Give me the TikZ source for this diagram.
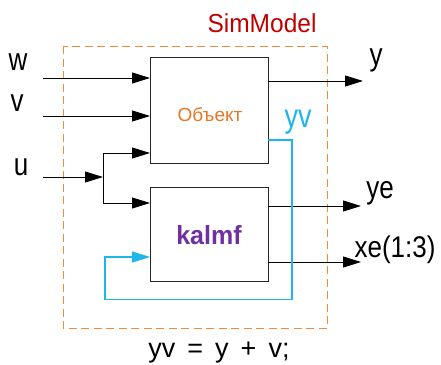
\documentclass[tikz,border=0pt]{standalone}
\usepackage{fontspec}
\setmainfont{Liberation Sans}
\usetikzlibrary{arrows.meta}
\definecolor{dorange}{HTML}{F08A3C}
\definecolor{simred}{HTML}{C00000}
\definecolor{objorange}{HTML}{E87722}
\definecolor{kpurple}{HTML}{7030A0}
\definecolor{sigblue}{HTML}{1EB4EC}
\newcommand{\tall}[1]{\scalebox{1}[1.22]{#1}}
\begin{document}
\begin{tikzpicture}[x=1pt,y=-1pt,
  blk/.style={draw=black!85, line width=1pt, minimum width=118pt, minimum height=#1, inner sep=0pt},
  arr/.style={line width=0.9pt, -{Triangle[length=18pt,width=11pt]}},
  lbl/.style={anchor=base, inner sep=0pt, font=\fontsize{26}{28}\selectfont},
  line join=miter]
\useasboundingbox (0,0) rectangle (441,364);
% dashed frame
\draw[dorange, line width=1pt, dash pattern=on 8pt off 4.5pt] (63,46) rectangle (327,328);
\node[lbl, text=simred, font=\fontsize{24.5}{26}\selectfont] (sim) at (262,32) {\scalebox{1}[1.06]{SimModel}};
% blocks
\node[blk=106pt] (obj) at (209,110) {};
\node[text=objorange, font=\fontsize{19}{21}\selectfont, inner sep=0pt] (objt) at (210,115) {Объект};
\node[blk=94pt] (kf) at (209,234) {};
\node[text=kpurple, font=\bfseries\fontsize{25}{27}\selectfont, inner sep=0pt] (kft) at (209,235) {\scalebox{1}[1.05]{kalmf}};
% input labels
\node[lbl] (w) at (18,70) {\tall{w}};
\node[lbl] (v) at (17,111) {\tall{v}};
\node[lbl] (u) at (21,175) {\tall{u}};
% input coordinates
\coordinate (win) at (43,78);
\coordinate (vin) at (43,116);
\coordinate (uin) at (43,177);
\coordinate (j) at (103,177);
\coordinate (ow) at (150,78);
\coordinate (ov) at (150,116);
\coordinate (ou) at (150,153);
\coordinate (ku) at (150,203);
\coordinate (ky) at (150,257);
\draw[arr] (win) -- (ow);
\draw[arr] (vin) -- (ov);
\draw[arr] (uin) -- (j);
\draw[arr] (j) |- (ou);
\draw[arr] (j) |- (ku);
% outputs
\coordinate (oy) at (268,81);
\coordinate (oyt) at (363,81);
\coordinate (kye) at (268,206);
\coordinate (kyet) at (361,206);
\coordinate (kxe) at (268,262);
\coordinate (kxet) at (361,262);
\draw[arr] (oy) -- (oyt);
\draw[arr] (kye) -- (kyet);
\draw[arr] (kxe) -- (kxet);
\node[lbl] (y) at (376,65) {\tall{y}};
\node[lbl] (ye) at (380,198) {\tall{ye}};
\node[lbl] (xe) at (395,257) {\scalebox{1}[1.15]{xe(1:3)}};
% blue feedback
\coordinate (oyv) at (268,140);
\coordinate (b1) at (292,140);
\coordinate (b2) at (292,299.5);
\coordinate (b3) at (105,299.5);
\coordinate (b4) at (105,257);
\draw[sigblue, line width=1.2pt, -{Triangle[length=18pt,width=11pt]}] (oyv) -- (b1) -- (b2) -- (b3) -- (b4) -- (ky);
\node[lbl, text=sigblue, font=\fontsize{27}{30}\selectfont] (yv) at (298,127) {\tall{yv}};
% equation
\node[lbl, font=\fontsize{27}{29}\selectfont] (eq) at (219,357) {yv\hspace{12pt}=\hspace{12pt}y\hspace{12pt}+\hspace{12pt}v;};
\end{tikzpicture}
\end{document}
